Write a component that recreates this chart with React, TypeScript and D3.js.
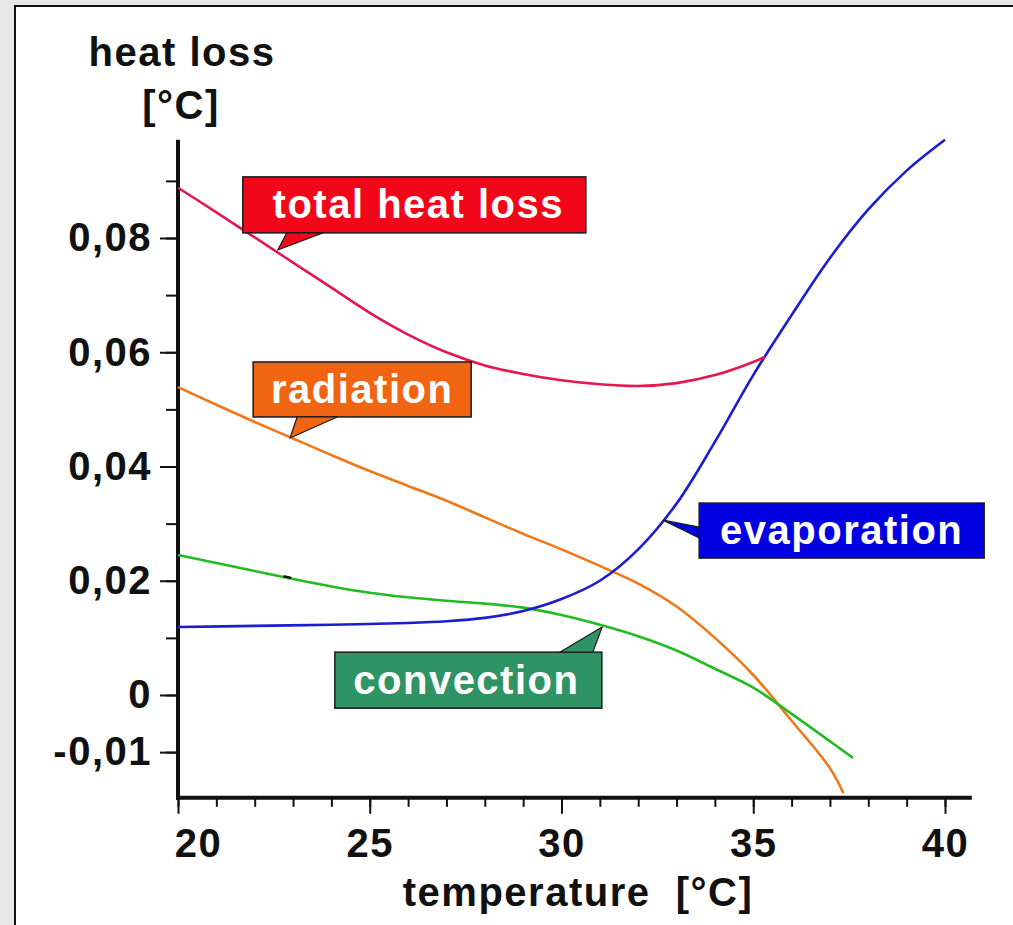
import * as d3 from "d3";
import { useEffect, useRef } from "react";

// temperature [°C] / heat loss [°C]
const totalTemp = [20, 21, 22, 23, 24, 25, 26, 27, 28, 29, 30, 31, 32, 33, 34, 35, 35.3];
const totalLoss = [0.0888, 0.0845, 0.0801, 0.0757, 0.0713, 0.0669, 0.0631, 0.0600, 0.0577, 0.0562, 0.0551, 0.0544, 0.0541, 0.0546, 0.056, 0.0583, 0.0592];

const radiationTemp = [20, 21, 22, 23, 24, 25, 26, 27, 28, 29, 30, 31, 32, 33, 34, 35, 36, 37, 37.35];
const radiationLoss = [0.0539, 0.0508, 0.0478, 0.0449, 0.042, 0.0392, 0.0366, 0.034, 0.0311, 0.0282, 0.0255, 0.0226, 0.0195, 0.0155, 0.0100, 0.0035, -0.0045, -0.0128, -0.0172];

const convectionTemp = [20, 21, 22, 23, 24, 25, 26, 27, 28, 29, 30, 31, 32, 33, 34, 35, 36, 37, 37.6];
const convectionLoss = [0.0245, 0.0231, 0.0217, 0.0203, 0.019, 0.0179, 0.0171, 0.0165, 0.016, 0.0153, 0.014, 0.0123, 0.0103, 0.0078, 0.0046, 0.0013, -0.0033, -0.0081, -0.011];

const evaporationTemp = [20, 22, 24, 26, 27, 28, 29, 30, 31, 32, 33, 34, 35, 36, 37, 38, 39, 40];
const evaporationLoss = [0.0119, 0.0121, 0.0123, 0.0126, 0.0129, 0.0135, 0.0147, 0.0168, 0.02, 0.0255, 0.0335, 0.0443, 0.056, 0.0665, 0.0765, 0.085, 0.0918, 0.0972];

const xMajorTicks = [20, 25, 30, 35, 40];
const xMinorTicks = d3.range(20, 41, 1);
const yMajorTicks = [-0.01, 0, 0.02, 0.04, 0.06, 0.08];
const yMinorTicks = [-0.01, 0, 0.01, 0.02, 0.03, 0.04, 0.05, 0.06, 0.07, 0.08, 0.09];

const seriesNames = ["total heat loss", "radiation", "convection", "evaporation"];

export default function App() {
    const ref = useRef<SVGSVGElement | null>(null);

    useEffect(() => {
        if (!ref.current) return;
        const width = 1013;
        const height = 925;
        const font = "'Liberation Sans', Arial, Helvetica, sans-serif";

        const svg = d3.select(ref.current);
        svg.selectAll("*").remove();

        const x = d3.scaleLinear().domain([20, 40]).range([178, 945]);
        const y = d3.scaleLinear().domain([0, 0.08]).range([695, 238]);
        const yBottom = -0.018;
        const yTop = 0.0972;
        const xEnd = 40.7;

        // frame
        svg.append("rect").attr("width", width).attr("height", height).attr("fill", "#e8e8e8");
        svg.append("rect")
            .attr("x", 15).attr("y", 6).attr("width", width).attr("height", height)
            .attr("fill", "#fff").attr("stroke", "#111").attr("stroke-width", 2);

        const fmt = d3.formatLocale({ decimal: ",", thousands: ".", grouping: [3], currency: ["", ""], minus: "-" }).format(".2f");

        // y axis
        const yMinor = svg.append("g").attr("transform", `translate(${x(20)},0)`)
            .call(d3.axisLeft(y).tickValues(yMinorTicks).tickSize(12).tickFormat(() => ""));
        const yMajor = svg.append("g").attr("transform", `translate(${x(20)},0)`)
            .call(d3.axisLeft(y).tickValues(yMajorTicks).tickSize(18).tickPadding(8)
                .tickFormat((d) => (+d === 0 ? "0" : fmt(+d))));

        // x axis
        const xMinor = svg.append("g").attr("transform", `translate(0,${y(yBottom)})`)
            .call(d3.axisBottom(x).tickValues(xMinorTicks).tickSize(9).tickFormat(() => ""));
        const xMajor = svg.append("g").attr("transform", `translate(0,${y(yBottom)})`)
            .call(d3.axisBottom(x).tickValues(xMajorTicks).tickSize(16).tickPadding(15)
                .tickFormat((d) => String(d)));

        [yMinor, yMajor, xMinor, xMajor].forEach((g) => {
            g.select(".domain").remove();
            g.selectAll(".tick line").attr("stroke", "#111").attr("stroke-width", 2);
            g.selectAll("text")
                .attr("fill", "#111")
                .attr("font-family", font)
                .attr("font-weight", "bold")
                .attr("font-size", 40)
                .style("letter-spacing", "1.5px");
        });
        xMajor.selectAll<SVGTextElement, number>("text").attr("dx", (d) => (d === 20 ? 20 : 0));

        svg.append("line")
            .attr("x1", x(20)).attr("x2", x(20))
            .attr("y1", y(yTop)).attr("y2", y(yBottom) + 2)
            .attr("stroke", "#111").attr("stroke-width", 4);
        svg.append("line")
            .attr("x1", x(20) - 2).attr("x2", x(xEnd))
            .attr("y1", y(yBottom)).attr("y2", y(yBottom))
            .attr("stroke", "#111").attr("stroke-width", 4);

        // axis titles
        const title = (t: string, cx: number, by: number) =>
            svg.append("text")
                .attr("x", cx).attr("y", by)
                .attr("text-anchor", "middle")
                .attr("font-family", font).attr("font-weight", "bold").attr("font-size", 40)
                .style("letter-spacing", "1.5px").style("white-space", "pre")
                .attr("fill", "#111")
                .text(t);
        title("heat loss", 182, 66);
        title("[°C]", 181, 119);
        title("temperature  [°C]", 578, 906);

        // curves
        const line = d3.line<[number, number]>()
            .x((d) => x(d[0]))
            .y((d) => y(d[1]))
            .curve(d3.curveCatmullRom.alpha(0.5));

        const curves: { temp: number[]; loss: number[]; color: string }[] = [
            { temp: radiationTemp, loss: radiationLoss, color: "#f07818" },
            { temp: convectionTemp, loss: convectionLoss, color: "#22bb22" },
            { temp: evaporationTemp, loss: evaporationLoss, color: "#1c1cd0" },
            { temp: totalTemp, loss: totalLoss, color: "#e4184e" },
        ];
        curves.forEach((c) => {
            svg.append("path")
                .datum(c.temp.map((t, i) => [t, c.loss[i]] as [number, number]))
                .attr("d", line)
                .attr("fill", "none")
                .attr("stroke", c.color)
                .attr("stroke-width", 2.6)
                .attr("stroke-linejoin", "round");
        });

        // stray pointer mark on the convection line
        svg.append("line")
            .attr("x1", x(22.75)).attr("x2", x(22.95))
            .attr("y1", y(0.0208)).attr("y2", y(0.0205))
            .attr("stroke", "#111").attr("stroke-width", 2.5);

        // callout labels: box top-left in data units, size in px, tip on the curve
        const callouts = [
            { name: seriesNames[0], fill: "#f2061a", box: [21.69, 0.0907], w: 343, h: 56, tip: [22.6, 0.0779], base: [[44, 56], [80, 56]], dx: 4 },
            { name: seriesNames[1], fill: "#f06412", box: [21.96, 0.0583], w: 218, h: 55, tip: [22.92, 0.045], base: [[44, 55], [84, 55]], dx: 0 },
            { name: seriesNames[2], fill: "#2e9464", box: [24.09, 0.0075], w: 267, h: 56, tip: [31.06, 0.0119], base: [[225, 0], [258, 0]], dx: -2 },
            { name: seriesNames[3], fill: "#0000e0", box: [33.59, 0.0336], w: 285, h: 55, tip: [32.65, 0.0306], base: [[0, 24], [0, 35]], dx: 0 },
        ];
        callouts.forEach((c) => {
            const bx = x(c.box[0]);
            const by = y(c.box[1]);
            svg.append("rect")
                .attr("x", bx).attr("y", by).attr("width", c.w).attr("height", c.h)
                .attr("fill", c.fill).attr("stroke", "#1a1a1a").attr("stroke-width", 1.5);
            const pts = [
                [bx + c.base[0][0], by + c.base[0][1]],
                [bx + c.base[1][0], by + c.base[1][1]],
                [x(c.tip[0]), y(c.tip[1])],
            ];
            svg.append("polygon")
                .attr("points", pts.map((p) => p.join(",")).join(" "))
                .attr("fill", c.fill).attr("stroke", "#1a1a1a").attr("stroke-width", 1.2)
                .attr("stroke-linejoin", "round");
            svg.append("text")
                .attr("x", bx + c.w / 2 + c.dx).attr("y", by + c.h * 0.74)
                .attr("text-anchor", "middle")
                .attr("font-family", font).attr("font-weight", "bold").attr("font-size", 40)
                .style("letter-spacing", "1.5px")
                .attr("fill", "#fff")
                .text(c.name);
        });
    }, []);

    return (
        <div style={{ position: "absolute", left: 0, top: 0 }}>
            <svg ref={ref} width={1013} height={925} style={{ display: "block" }}></svg>
        </div>
    );
}
